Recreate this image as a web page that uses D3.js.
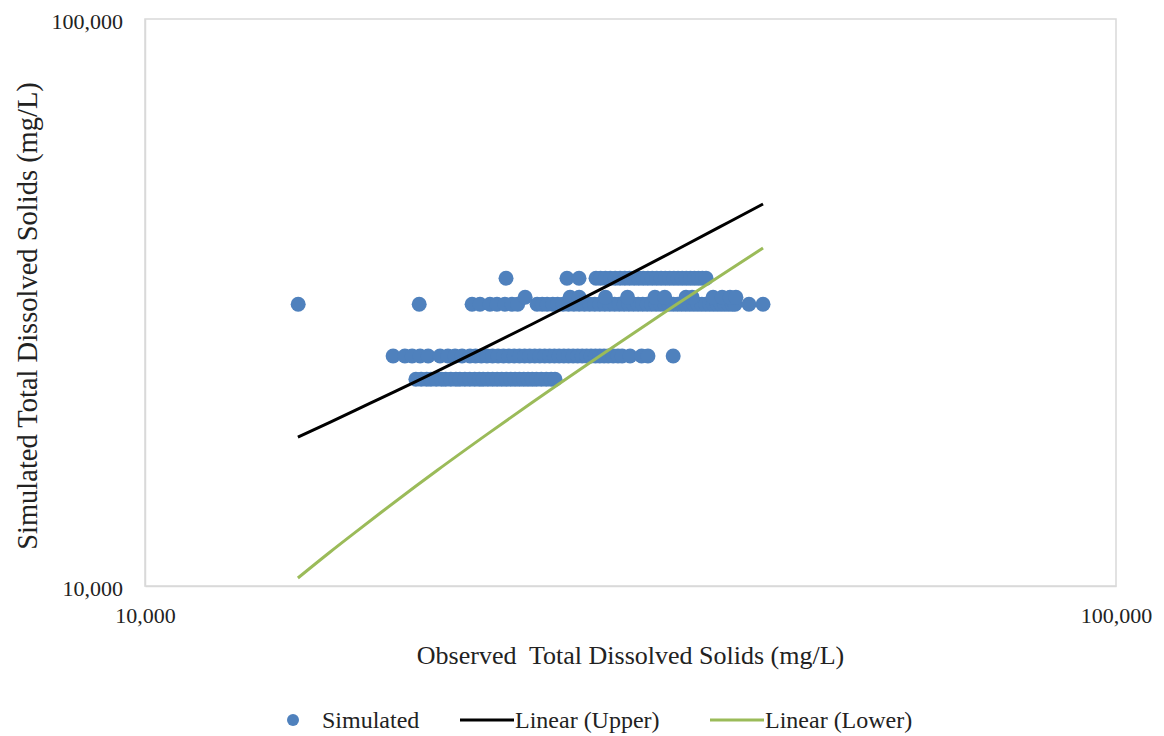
<!DOCTYPE html>
<html><head><meta charset="utf-8">
<script src="https://cdn.jsdelivr.net/npm/d3@7"></script>
<style>body{margin:0;background:#fff;}svg{display:block;font-family:"Liberation Serif","Times New Roman",serif;}</style>
</head><body><svg id="c" width="1164" height="736"></svg>
<script>
// ---- data (mg/L) ----
const xTicks = [10000, 100000];
const yTicks = [10000, 100000];
const tickLabels = ["10,000", "100,000"];

// Simulated rows: observed values at each simulated level
const simLevelA = 34900;
const obsA = [23540, 27200, 27990, 29140, 29450, 29800, 30150, 30500, 30850, 31200, 31550, 31900, 32250, 32600, 32950, 33300, 33650, 34000, 34350, 34700, 35050, 35400, 35750, 36100, 36450, 36800, 37150, 37500, 37830];

const simLevelB = 31400;
const obsB = [14380, 19160, 21720, 22130, 22660, 23040, 23480, 23880, 24200, 25340, 25650, 25950, 26300, 26600, 26950, 27300, 27650, 28000, 28350, 28700, 29050, 29400, 29750, 30100, 30450, 30800, 31150, 31500, 31850, 32200, 32550, 32900, 33250, 33600, 33950, 34300, 34650, 35000, 35350, 35700, 36050, 36400, 36750, 37100, 37450, 37800, 38150, 38500, 38850, 39200, 39550, 39900, 40250, 40520, 41880, 43300];

const simLevelB2 = 32300;
const obsB2 = [24630, 27400, 28000, 29800, 31400, 33510, 34300, 36070, 36600, 38460, 39300, 40040, 40600];

const simLevelC = 25450;
const obsC = [18010, 18520, 18840, 19200, 19570, 20130, 20510, 20860, 21210, 21610, 21900, 22200, 22500, 22800, 23100, 23400, 23700, 24000, 24300, 24600, 24900, 25200, 25500, 25800, 26100, 26400, 26700, 27000, 27300, 27600, 27900, 28200, 28500, 28800, 29100, 29400, 29700, 30000, 30350, 30700, 31000, 31590, 32470, 32960, 34990];

const simLevelD = 23150;
const obsD = [19010, 19250, 19500, 19700, 19950, 20200, 20400, 20650, 20900, 21100, 21350, 21600, 21850, 22100, 22300, 22550, 22800, 23050, 23300, 23550, 23800, 24050, 24300, 24550, 24800, 25050, 25300, 25600, 25900, 26200, 26440];

// Trendlines
const upperX = [14370, 15500, 16500, 17500, 19000, 20000, 22500, 25000, 30000, 35000, 40000, 43300];
const upperY = [18310, 19440, 20440, 21450, 22930, 23930, 26430, 28920, 33910, 38900, 43900, 47180];
const lowerX = [14370, 15500, 16500, 17500, 19000, 20000, 22500, 25000, 30000, 35000, 40000, 43300];
const lowerY = [10330, 11470, 12470, 13480, 14990, 16000, 18510, 21030, 26060, 31100, 36130, 39450];

const legendLabels = ["Simulated", "Linear (Upper)", "Linear (Lower)"];
const xTitle = "Observed  Total Dissolved Solids (mg/L)";
const yTitle = "Simulated Total Dissolved Solids (mg/L)";

// ---- drawing ----
const svg = d3.select("#c");
const L = 145, R = 1116, T = 19, B = 586;
const x = d3.scaleLog().domain([10000, 100000]).range([L, R]);
const y = d3.scaleLog().domain([10000, 100000]).range([B, T]);
const blue = "#4f81bd", green = "#9bbb59";

svg.append("rect").attr("x", L).attr("y", T).attr("width", R - L).attr("height", B - T)
  .attr("fill", "#fff").attr("stroke", "#d9d9d9").attr("stroke-width", 1.5);

// axes (labels only)
const xAxis = d3.axisBottom(x).tickValues(xTicks).tickSize(0).tickFormat((d, i) => tickLabels[i]);
const gx = svg.append("g").attr("transform", `translate(0,${B})`).call(xAxis);
gx.select(".domain").attr("stroke", "#d9d9d9").attr("stroke-width", 1.5);
gx.selectAll("text").attr("dy", "1.55em").style("font-size", "22px").attr("fill", "#222").style("font-family", "Liberation Serif");

const yAxis = d3.axisLeft(y).tickValues(yTicks).tickSize(0).tickFormat((d, i) => tickLabels[i]);
const gy = svg.append("g").attr("transform", `translate(${L},0)`).call(yAxis);
gy.select(".domain").attr("stroke", "#d9d9d9").attr("stroke-width", 1.5);
gy.selectAll("text").attr("x", -22).attr("dy", "0.45em").style("font-size", "22px").attr("fill", "#222").style("font-family", "Liberation Serif");

// points
const pts = [];
obsA.forEach(v => pts.push([v, simLevelA]));
obsB.forEach(v => pts.push([v, simLevelB]));
obsB2.forEach(v => pts.push([v, simLevelB2]));
obsC.forEach(v => pts.push([v, simLevelC]));
obsD.forEach(v => pts.push([v, simLevelD]));
svg.append("g").selectAll("circle").data(pts).join("circle")
  .attr("cx", d => x(d[0])).attr("cy", d => y(d[1])).attr("r", 7.5).attr("fill", blue);

// trendlines
const line = d3.line().x(d => x(d[0])).y(d => y(d[1])).curve(d3.curveMonotoneX);
svg.append("path").datum(upperX.map((v, i) => [v, upperY[i]])).attr("d", line)
  .attr("fill", "none").attr("stroke", "#000").attr("stroke-width", 3);
svg.append("path").datum(lowerX.map((v, i) => [v, lowerY[i]])).attr("d", line)
  .attr("fill", "none").attr("stroke", green).attr("stroke-width", 3);

// titles
svg.append("text").attr("x", (L + R) / 2).attr("y", 664).attr("text-anchor", "middle")
  .style("font-size", "26px").style("white-space", "pre").attr("fill", "#222").text(xTitle);
svg.append("text").attr("transform", `translate(37,316) rotate(-90)`).attr("text-anchor", "middle")
  .style("font-size", "28.5px").attr("fill", "#222").text(yTitle);

// legend
const lg = svg.append("g").style("font-size", "24px").attr("fill", "#222");
lg.append("circle").attr("cx", 293).attr("cy", 720).attr("r", 6).attr("fill", blue);
lg.append("text").attr("x", 322).attr("y", 728).text(legendLabels[0]);
lg.append("line").attr("x1", 460).attr("x2", 514).attr("y1", 720).attr("y2", 720).attr("stroke", "#000").attr("stroke-width", 3);
lg.append("text").attr("x", 515).attr("y", 728).text(legendLabels[1]);
lg.append("line").attr("x1", 710).attr("x2", 764).attr("y1", 720).attr("y2", 720).attr("stroke", green).attr("stroke-width", 3);
lg.append("text").attr("x", 765).attr("y", 728).text(legendLabels[2]);
</script></body></html>
